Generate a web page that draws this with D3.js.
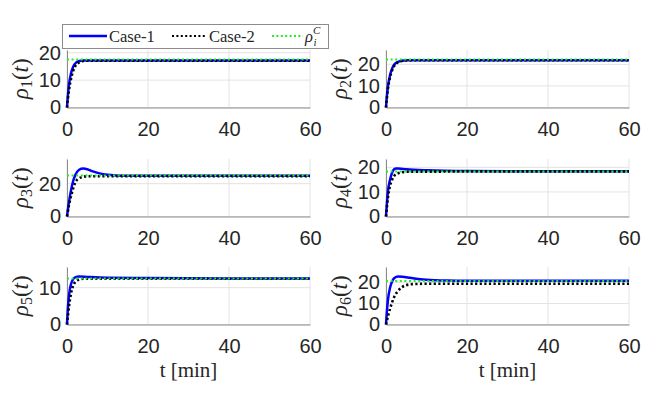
<!DOCTYPE html>
<html lang="en">
<head>
<meta charset="UTF-8">
<title>rho responses</title>
<script src="https://d3js.org/d3.v7.min.js"></script>
<style>
  body { margin: 0; background: #fff; }
  svg { display: block; }
</style>
</head>
<body>
<script>
    // time [min], value pairs
    const rho1Case1 = [[0, 0], [0.25, 5], [0.5, 8.5], [1, 12.5], [1.5, 14.8], [2, 16], [2.5, 16.7], [3, 17], [4, 17.2], [6, 17.2], [20, 17.2], [40, 17.2], [60, 17.2]];
    const rho1Case2 = [[0, 0], [0.5, 6.5], [1, 10.5], [1.5, 13.3], [2, 15], [3, 16.5], [4, 17], [5, 17.1], [20, 17.1], [40, 17.1], [60, 17.1]];
    const rho2Case1 = [[0, 0], [0.25, 6], [0.5, 10], [1, 15], [1.5, 18], [2, 19.8], [3, 21.2], [4, 21.7], [5, 21.9], [20, 21.9], [40, 21.9], [60, 21.9]];
    const rho2Case2 = [[0, 0], [0.5, 9], [1, 14], [1.5, 17.2], [2, 19.2], [3, 21], [4, 21.6], [5, 21.85], [20, 21.9], [40, 21.9], [60, 21.9]];
    const rho3Case1 = [[0, 0], [0.5, 9], [1, 16], [1.5, 21.5], [2, 25], [3, 28.5], [4, 29.2], [5, 28.8], [6, 27.8], [8, 26.3], [10, 25.4], [12, 25], [15, 24.8], [20, 24.8], [40, 24.8], [60, 24.8]];
    const rho3Case2 = [[0, 0], [0.5, 7], [1, 12.5], [1.5, 17], [2, 20.5], [3, 23.3], [4, 24.2], [5, 24.5], [20, 24.6], [40, 24.6], [60, 24.6]];
    const rho4Case1 = [[0, 0], [0.25, 6], [0.5, 10.5], [1, 15], [1.5, 17.8], [2, 19.2], [2.5, 19.5], [3, 19.5], [5, 19.2], [10, 18.8], [20, 18.5], [40, 18.4], [60, 18.4]];
    const rho4Case2 = [[0, 0], [0.5, 8], [1, 12.5], [1.5, 15], [2, 16.5], [3, 17.6], [4, 18], [5, 18.2], [20, 18.3], [40, 18.3], [60, 18.3]];
    const rho5Case1 = [[0, 0], [0.25, 5], [0.5, 8], [1, 11], [1.5, 12.3], [2, 12.8], [3, 13], [5, 12.9], [10, 12.7], [20, 12.6], [40, 12.5], [60, 12.5]];
    const rho5Case2 = [[0, 0], [0.5, 5], [1, 8.5], [1.5, 10.5], [2, 11.5], [3, 12.2], [4, 12.4], [6, 12.4], [20, 12.4], [40, 12.4], [60, 12.4]];
    const rho6Case1 = [[0, 0], [0.25, 7], [0.5, 12], [1, 17.5], [1.5, 20.5], [2, 22], [3, 22.8], [4, 22.7], [6, 22.2], [8, 21.7], [10, 21.3], [15, 20.9], [20, 20.8], [40, 20.8], [60, 20.8]];
    const rho6Case2 = [[0, 0], [0.5, 4], [1, 7.5], [1.5, 10.5], [2, 13], [3, 16], [4, 17.8], [5, 18.7], [6, 19.1], [8, 19.3], [10, 19.4], [20, 19.4], [40, 19.4], [60, 19.4]];

    const case1Series = [rho1Case1, rho2Case1, rho3Case1, rho4Case1, rho5Case1, rho6Case1];
    const case2Series = [rho1Case2, rho2Case2, rho3Case2, rho4Case2, rho5Case2, rho6Case2];
    const refValues = [17.5, 22.2, 25, 18.3, 12.5, 20.7];   // rho_i^C
    const yTicks = [[0, 10, 20], [0, 10, 20], [0, 20], [0, 10, 20], [0, 10], [0, 10, 20]];
    const xTicks = [0, 20, 40, 60];
    const legendLabels = ["Case-1", "Case-2"];

    const W = 646, H = 393;
    const colX = [67, 386];
    const rowTop = [50, 159, 267];
    const axW = 243, axH = 57.5;

    const axisGrey = "#8c8c8c", gridGrey = "#e3e3e3", textCol = "#262626";
    const sans = "'Liberation Sans', Arial, sans-serif";
    const serif = "'Liberation Serif', 'Times New Roman', serif";

    const svg = d3.select("body").append("svg")
        .attr("width", W)
        .attr("height", H);

    const x = d3.scaleLinear().domain([0, 60]).range([0, axW]);

    case1Series.forEach((c1, i) => {
        const col = i % 2, row = Math.floor(i / 2);
        const c2 = case2Series[i];
        // matlab-ish ylim: 1.2 * max of everything drawn
        const yMax = 1.2 * d3.max([...c1, ...c2].map(d => d[1]).concat([refValues[i]]));
        const y = d3.scaleLinear().domain([0, yMax]).range([axH, 0]);

        const g = svg.append("g")
            .attr("transform", "translate(" + colX[col] + "," + rowTop[row] + ")");

        // grid
        g.selectAll("line.gx").data(xTicks).enter().append("line")
            .attr("x1", d => x(d)).attr("x2", d => x(d))
            .attr("y1", 0).attr("y2", axH)
            .attr("stroke", gridGrey).attr("stroke-width", 1);
        g.selectAll("line.gy").data(yTicks[i]).enter().append("line")
            .attr("x1", 0).attr("x2", axW)
            .attr("y1", d => y(d)).attr("y2", d => y(d))
            .attr("stroke", gridGrey).attr("stroke-width", 1);

        // axes
        const xAxis = d3.axisBottom(x).tickValues(xTicks).tickSize(0).tickPadding(0);
        const xg = g.append("g").attr("transform", "translate(0," + axH + ")").call(xAxis);
        xg.select(".domain").attr("stroke", axisGrey);
        xg.selectAll("text")
            .attr("y", 28.5).attr("dy", 0)
            .attr("font-family", sans).attr("font-size", 20).attr("fill", textCol);

        const yAxis = d3.axisLeft(y).tickValues(yTicks[i]).tickSize(0).tickPadding(6);
        const yg = g.append("g").call(yAxis);
        yg.select(".domain").attr("stroke", axisGrey);
        yg.selectAll("text")
            .attr("font-family", sans).attr("font-size", 20).attr("fill", textCol);

        const line = d3.line()
            .x(d => x(d[0]))
            .y(d => y(d[1]))
            .curve(d3.curveMonotoneX);

        g.append("path").datum(c1)
            .attr("d", line)
            .attr("fill", "none").attr("stroke", "#0000ff").attr("stroke-width", 2.5);
        g.append("path").datum(c2)
            .attr("d", line)
            .attr("fill", "none").attr("stroke", "#000").attr("stroke-width", 2.6)
            .attr("stroke-dasharray", "2.2,2.4");
        g.append("path").datum([[0, refValues[i]], [60, refValues[i]]])
            .attr("d", line)
            .attr("fill", "none").attr("stroke", "#22ee22").attr("stroke-width", 2)
            .attr("stroke-dasharray", "2,2.6");

        // y label rho_i(t)
        const lab = svg.append("text")
            .attr("transform", "translate(" + (colX[col] - 46) + "," + (rowTop[row] + axH / 2) + ") rotate(-90)")
            .attr("text-anchor", "middle")
            .attr("dy", "0.3em")
            .attr("font-family", serif).attr("font-size", 23).attr("fill", textCol);
        lab.append("tspan").attr("font-style", "italic").text("ρ");
        lab.append("tspan").attr("font-size", 16).attr("dy", 4).text(i + 1);
        lab.append("tspan").attr("dy", -4).text("(");
        lab.append("tspan").attr("font-style", "italic").text("t");
        lab.append("tspan").text(")");

        if (row === 2) {
            svg.append("text")
                .attr("x", colX[col] + axW / 2)
                .attr("y", 377)
                .attr("text-anchor", "middle")
                .attr("font-family", serif).attr("font-size", 21).attr("fill", textCol)
                .text("t [min]");
        }
    });

    // legend
    const leg = svg.append("g");
    leg.append("rect")
        .attr("x", 62.5).attr("y", 24.5).attr("width", 266).attr("height", 24)
        .attr("fill", "#fff").attr("stroke", axisGrey);
    leg.append("line").attr("x1", 69).attr("x2", 107).attr("y1", 36).attr("y2", 36)
        .attr("stroke", "#0000ff").attr("stroke-width", 2.5);
    leg.append("line").attr("x1", 172).attr("x2", 207).attr("y1", 36).attr("y2", 36)
        .attr("stroke", "#000").attr("stroke-width", 2.2).attr("stroke-dasharray", "2,2.4");
    leg.append("line").attr("x1", 272).attr("x2", 303).attr("y1", 36).attr("y2", 36)
        .attr("stroke", "#22ee22").attr("stroke-width", 2).attr("stroke-dasharray", "2,2.4");
    leg.selectAll("text.lab").data(legendLabels).enter().append("text")
        .attr("x", (d, k) => [109, 209][k]).attr("y", 42)
        .attr("font-family", serif).attr("font-size", 16.5).attr("fill", textCol)
        .text(d => d);
    const rc = leg.append("text").attr("x", 305).attr("y", 42)
        .attr("font-family", serif).attr("font-size", 16.5).attr("fill", textCol);
    rc.append("tspan").attr("font-style", "italic").text("ρ");
    rc.append("tspan").attr("font-style", "italic").attr("font-size", 11).attr("dy", -8).text("C");
    rc.append("tspan").attr("font-style", "italic").attr("font-size", 11).attr("x", 313.5).attr("dy", 12).text("i");
</script>
</body>
</html>
